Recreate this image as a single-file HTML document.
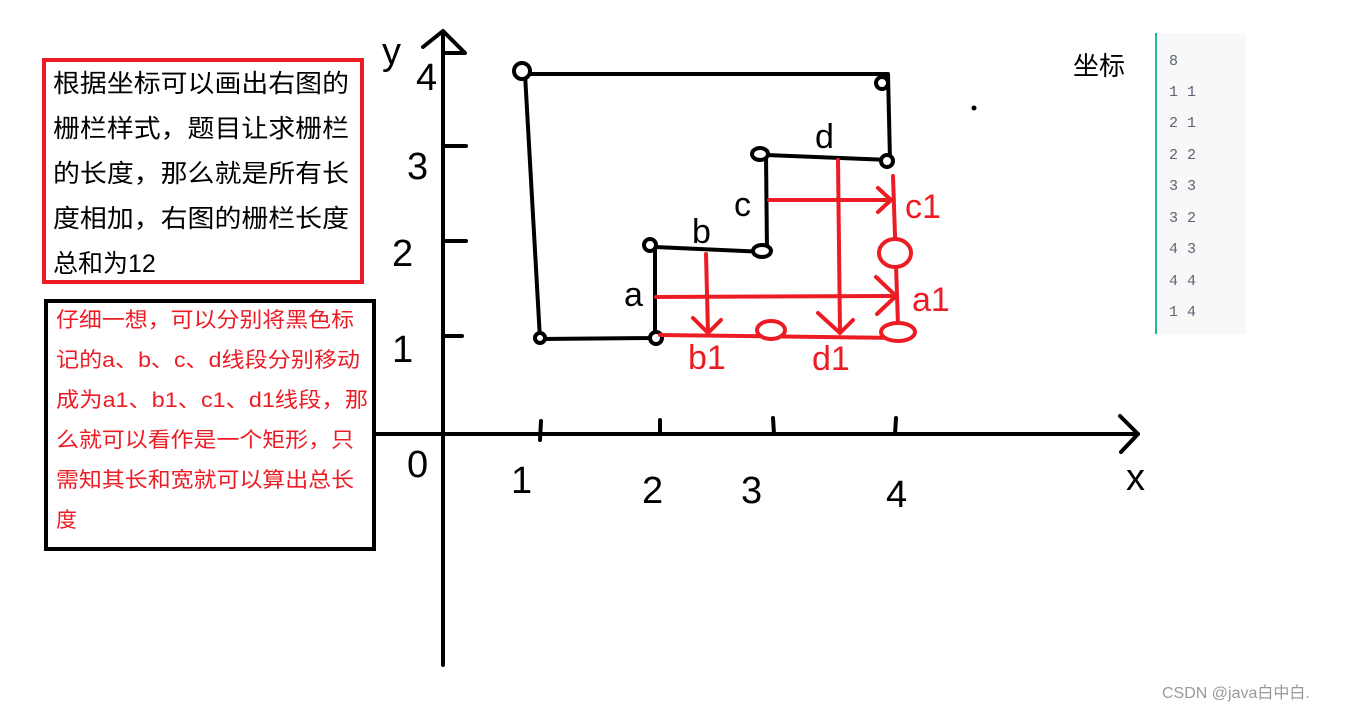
<!DOCTYPE html>
<html><head><meta charset="utf-8"><style>
html,body{margin:0;padding:0;background:#fff;width:1350px;height:714px;overflow:hidden}
svg{display:block}
</style></head><body>
<svg width="1350" height="714" xmlns="http://www.w3.org/2000/svg" font-family="Liberation Sans, Noto Sans CJK SC, sans-serif">
<rect x="0" y="0" width="1350" height="714" fill="#fff"/>
<rect x="44" y="60" width="318" height="222" fill="none" stroke="#ed1c24" stroke-width="4"/>
<g font-size="25" fill="#000">
<text x="53" y="92" textLength="296" lengthAdjust="spacingAndGlyphs">根据坐标可以画出右图的</text>
<text x="53" y="137" textLength="296" lengthAdjust="spacingAndGlyphs">栅栏样式，题目让求栅栏</text>
<text x="53" y="182" textLength="296" lengthAdjust="spacingAndGlyphs">的长度，那么就是所有长</text>
<text x="53" y="227" textLength="296" lengthAdjust="spacingAndGlyphs">度相加，右图的栅栏长度</text>
<text x="53" y="272">总和为12</text>
</g>
<rect x="46" y="301" width="328" height="248" fill="none" stroke="#000" stroke-width="4"/>
<g font-size="21" fill="#ed1c24">
<text x="56" y="327" textLength="298" lengthAdjust="spacingAndGlyphs">仔细一想，可以分别将黑色标</text>
<text x="56" y="367" textLength="304" lengthAdjust="spacingAndGlyphs">记的a、b、c、d线段分别移动</text>
<text x="56" y="407" textLength="312" lengthAdjust="spacingAndGlyphs">成为a1、b1、c1、d1线段，那</text>
<text x="56" y="447" textLength="298" lengthAdjust="spacingAndGlyphs">么就可以看作是一个矩形，只</text>
<text x="56" y="487" textLength="298" lengthAdjust="spacingAndGlyphs">需知其长和宽就可以算出总长</text>
<text x="56" y="527">度</text>
</g>
<g stroke="#000" stroke-width="4" fill="none" stroke-linecap="round" stroke-linejoin="round">
<line x1="443" y1="32" x2="443" y2="665"/>
<polyline points="423,47 443,31 465,53 443,53"/>
<line x1="376" y1="434" x2="1138" y2="434"/>
<polyline points="1120,416 1138,434 1121,452"/>
<line x1="443" y1="146" x2="466" y2="146"/>
<line x1="443" y1="241" x2="466" y2="241"/>
<line x1="443" y1="336" x2="462" y2="336"/>
<line x1="541" y1="421" x2="540" y2="440"/>
<line x1="660" y1="420" x2="660" y2="434"/>
<line x1="773" y1="418" x2="774" y2="434"/>
<line x1="896" y1="418" x2="895" y2="434"/>
<polyline points="525,74 888,74 890,160"/>
<polyline points="890,160 766,155 767,252 655,247 655,338 540,339 525,74"/>
</g>
<g stroke="#000" stroke-width="4" fill="#fff">
<circle cx="522" cy="71" r="8"/>
<circle cx="882" cy="83" r="6"/>
<circle cx="887" cy="161" r="6"/>
<ellipse cx="760" cy="154" rx="8" ry="6"/>
<ellipse cx="762" cy="251" rx="9" ry="6"/>
<circle cx="650" cy="245" r="6"/>
<circle cx="656" cy="338" r="6"/>
<circle cx="540" cy="338" r="5"/>
</g>
<circle cx="974" cy="108" r="2.5" fill="#000"/>
<g stroke="#ed1c24" stroke-width="4" fill="none" stroke-linecap="round" stroke-linejoin="round">
<line x1="660" y1="335" x2="898" y2="338"/>
<line x1="893" y1="176" x2="898" y2="325"/>
<line x1="656" y1="297" x2="896" y2="296"/>
<polyline points="876,277 896,296 877,314"/>
<line x1="769" y1="200" x2="890" y2="200"/>
<polyline points="878,188 891,200 878,212"/>
<line x1="706" y1="254" x2="708" y2="333"/>
<polyline points="693,318 708,333 721,320"/>
<line x1="838" y1="160" x2="840" y2="333"/>
<polyline points="818,313 840,333 853,320"/>
</g>
<g stroke="#ed1c24" stroke-width="4" fill="#fff">
<ellipse cx="895" cy="253" rx="16" ry="14"/>
<ellipse cx="898" cy="332" rx="17" ry="9"/>
<ellipse cx="771" cy="330" rx="14" ry="9"/>
</g>
<g font-size="38" fill="#000">
<text x="382" y="64">y</text>
<text x="416" y="90">4</text>
<text x="407" y="179">3</text>
<text x="392" y="266">2</text>
<text x="392" y="362">1</text>
<text x="407" y="477">0</text>
<text x="511" y="493">1</text>
<text x="642" y="503">2</text>
<text x="741" y="503">3</text>
<text x="886" y="507">4</text>
<text x="1126" y="490">x</text>
</g>
<g font-size="34" fill="#000">
<text x="624" y="306">a</text>
<text x="692" y="243">b</text>
<text x="734" y="216">c</text>
<text x="815" y="148">d</text>
</g>
<g font-size="34" fill="#ed1c24">
<text x="905" y="218">c1</text>
<text x="912" y="311">a1</text>
<text x="688" y="369">b1</text>
<text x="812" y="370">d1</text>
</g>
<text x="1073" y="75" font-size="26" fill="#000">坐标</text>
<rect x="1156" y="33" width="90" height="301" fill="#f8f8f8"/>
<rect x="1155" y="33" width="2" height="301" fill="#1abc9c"/>
<g font-family="Liberation Mono, monospace" font-size="15" fill="#5a6577">
<text x="1169" y="65">8</text>
<text x="1169" y="96">1 1</text>
<text x="1169" y="127">2 1</text>
<text x="1169" y="159">2 2</text>
<text x="1169" y="190">3 3</text>
<text x="1169" y="222">3 2</text>
<text x="1169" y="253">4 3</text>
<text x="1169" y="285">4 4</text>
<text x="1169" y="316">1 4</text>
</g>
<text x="1162" y="698" font-size="16" fill="#999">CSDN @java白中白.</text>
</svg>
</body></html>
